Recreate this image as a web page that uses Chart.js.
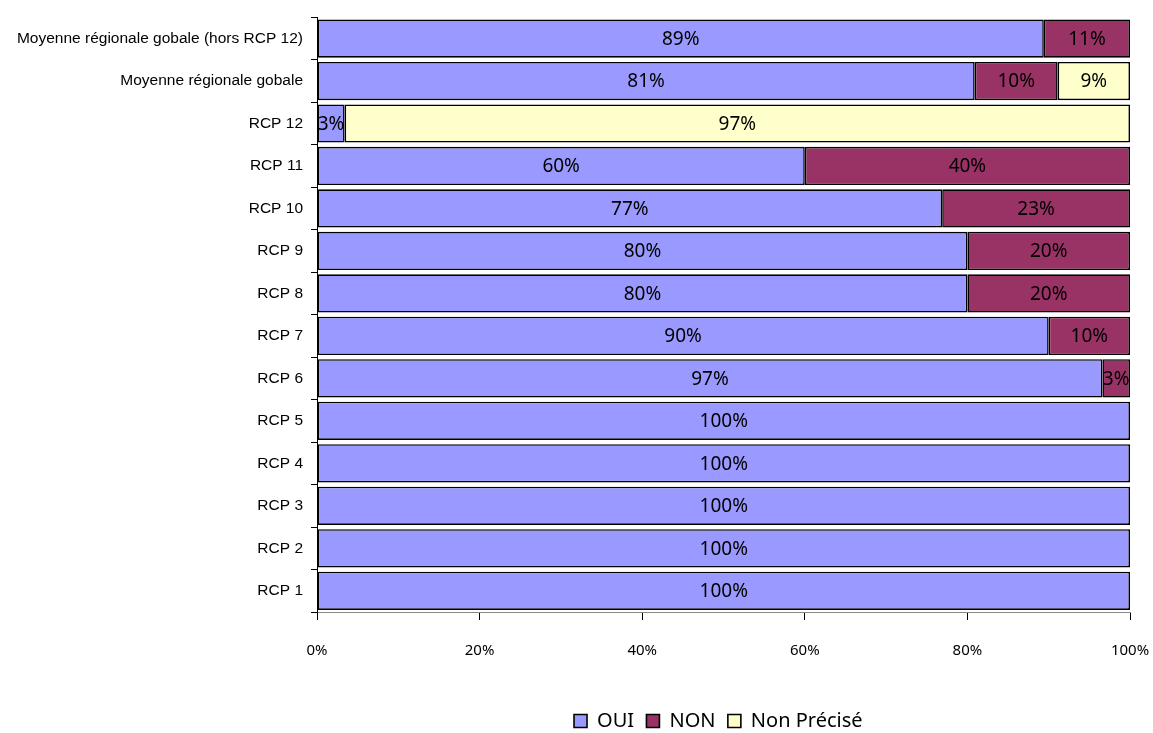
<!DOCTYPE html>
<html>
<head>
<meta charset="utf-8">
<script src="https://cdn.jsdelivr.net/npm/chart.js@4/dist/chart.umd.min.js"></script>
<style>
  html, body { margin: 0; padding: 0; background: #fff; }
  #wrap { width: 1153px; height: 733px; }
</style>
</head>
<body>
<div id="wrap"><canvas id="chart"></canvas></div>
<script>
const categories = [
  "Moyenne régionale gobale (hors RCP 12)",
  "Moyenne régionale gobale",
  "RCP 12", "RCP 11", "RCP 10", "RCP 9", "RCP 8", "RCP 7",
  "RCP 6", "RCP 5", "RCP 4", "RCP 3", "RCP 2", "RCP 1"
]
const oui = [89.4, 80.9, 3.4, 60, 76.9, 80, 80, 90, 96.6, 100, 100, 100, 100, 100]
const non = [10.6, 10.2, 0, 40, 23.1, 20, 20, 10, 3.4, 0, 0, 0, 0, 0]
const nonPrecise = [0, 8.9, 96.6, 0, 0, 0, 0, 0, 0, 0, 0, 0, 0, 0]
const xTicks = [0, 20, 40, 60, 80, 100]

const labelFont = "'Noto Sans', sans-serif"

// draw the percentage inside every segment
const segmentLabels = {
  id: "segmentLabels",
  afterDatasetsDraw(chart) {
    const ctx = chart.ctx
    ctx.save()
    ctx.font = "19px " + labelFont
    ctx.fillStyle = "#000"
    ctx.textAlign = "center"
    ctx.textBaseline = "middle"
    chart.data.datasets.forEach((ds, i) => {
      chart.getDatasetMeta(i).data.forEach((bar, j) => {
        const v = ds.data[j]
        if (!v) return
        const { x, y, base } = bar.getProps(["x", "y", "base"], true)
        ctx.fillText(Math.round(v) + "%", (x + base) / 2, y + 1)
      })
    })
    ctx.restore()
  }
}

const barStyle = { borderColor: "#000", borderWidth: 1.6, borderSkipped: false, barPercentage: 0.9, categoryPercentage: 1 }

new Chart(document.getElementById("chart"), {
  type: "bar",
  data: {
    labels: categories,
    datasets: [
      { label: "OUI", data: oui, backgroundColor: "#9999FF", ...barStyle },
      { label: "NON", data: non, backgroundColor: "#993366", ...barStyle },
      { label: "Non Précisé", data: nonPrecise, backgroundColor: "#FFFFCC", ...barStyle }
    ]
  },
  options: {
    indexAxis: "y",
    responsive: true,
    maintainAspectRatio: false,
    animation: false,
    layout: { padding: { top: 15, right: 23, left: 0, bottom: -8 } },
    plugins: {
      legend: {
        position: "bottom",
        fullSize: false,
        labels: {
          color: "#000",
          font: { family: labelFont, size: 20, lineHeight: 1 },
          boxWidth: 13,
          boxHeight: 13,
          padding: 2,
          generateLabels: (chart) => Chart.defaults.plugins.legend.labels.generateLabels(chart)
            .map(item => ({ ...item, text: item.text + "  " }))
        }
      },
      tooltip: { enabled: false }
    },
    scales: {
      x: {
        stacked: true,
        min: 0,
        max: 100,
        afterBuildTicks: (scale) => { scale.ticks = xTicks.map(v => ({ value: v })) },
        afterFit: (scale) => {
          scale.height = 97
          scale.paddingLeft = 0
          scale.paddingRight = 0
        },
        ticks: {
          color: "#000",
          font: { family: labelFont, size: 15 },
          padding: 22,
          callback: (v) => v + "%"
        },
        grid: { drawOnChartArea: false, tickLength: 8, color: "#000" },
        border: { display: true, color: "#888" }
      },
      y: {
        stacked: true,
        afterFit: (scale) => { scale.width = 317 },
        ticks: {
          color: "#000",
          font: { family: "'Liberation Sans', Arial, sans-serif", size: 15.5 },
          padding: 8
        },
        grid: { drawOnChartArea: false, offset: true, tickLength: 6, color: "#000" },
        border: { display: true, color: "#000" }
      }
    }
  },
  plugins: [segmentLabels]
})
</script>
</body>
</html>
